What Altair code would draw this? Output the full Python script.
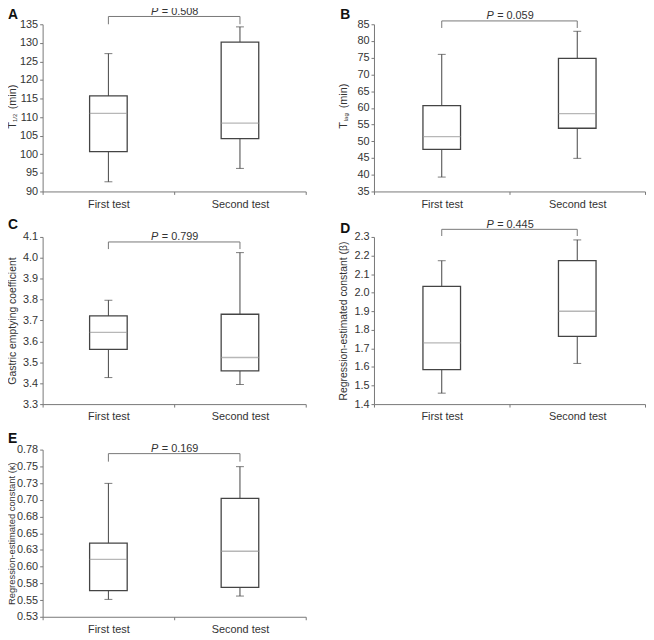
import altair as alt
import pandas as pd

CATS = ["First test", "Second test"]

# box statistics: low whisker, Q1, median, Q3, high whisker (first, second)
A_LOW = [92.6, 96.2]; A_Q1 = [100.7, 104.2]; A_MED = [111.0, 108.4]; A_Q3 = [115.7, 130.2]; A_HIGH = [127.1, 134.3]
B_LOW = [39.3, 44.9]; B_Q1 = [47.6, 53.9]; B_MED = [51.4, 58.3]; B_Q3 = [60.7, 74.8]; B_HIGH = [76.0, 82.9]
C_LOW = [3.427, 3.394]; C_Q1 = [3.562, 3.459]; C_MED = [3.643, 3.523]; C_Q3 = [3.722, 3.730]; C_HIGH = [3.797, 4.025]
D_LOW = [1.459, 1.619]; D_Q1 = [1.586, 1.765]; D_MED = [1.730, 1.900]; D_Q3 = [2.034, 2.172]; D_HIGH = [2.172, 2.284]
E_LOW = [0.551, 0.556]; E_Q1 = [0.564, 0.569]; E_MED = [0.611, 0.623]; E_Q3 = [0.635, 0.702]; E_HIGH = [0.7245, 0.7495]

A_TICKS = [90, 95, 100, 105, 110, 115, 120, 125, 130, 135]
B_TICKS = [35, 40, 45, 50, 55, 60, 65, 70, 75, 80, 85]
C_TICKS = [3.3, 3.4, 3.5, 3.6, 3.7, 3.8, 3.9, 4.0, 4.1]
D_TICKS = [1.4, 1.5, 1.6, 1.7, 1.8, 1.9, 2.0, 2.1, 2.2, 2.3]
E_TICKS = [0.525, 0.55, 0.575, 0.6, 0.625, 0.65, 0.675, 0.7, 0.725, 0.75, 0.775]

P_TEXT = {"A": "= 0.508", "B": "= 0.059", "C": "= 0.799", "D": "= 0.445", "E": "= 0.169"}
# bracket level and drop end (data units)
BRACKET = {"A": (137.1, 135.0), "B": (86.0, 83.9), "C": (4.076, 4.042), "D": (2.341, 2.305), "E": (0.769, 0.757)}

FONT = "Liberation Sans"
BOX_COLOR = "#444444"
MED_COLOR = "#999999"
AXIS_COLOR = "#777777"
TEXT_COLOR = "#333333"
H = 169

XSCALE = alt.Scale(domain=CATS, paddingInner=0, paddingOuter=0)
XAXIS = alt.Axis(title=None, labelAngle=0, tickBand="extent", tickSize=3,
                 labelPadding=4, labelFontSize=11, labelColor=TEXT_COLOR,
                 domainColor=AXIS_COLOR, tickColor=AXIS_COLOR, labelFont=FONT)


def panel(letter, low, q1, med, q3, high, ticks, fmt, width, title=None, title_parts=None,
          letter_dx=-36, letter_dy=-5, p_dy=-10, label_expr=None, title_size=11,
          title_pad=6, sub_y=98.8, tail_y=86):
    df = pd.DataFrame({"cat": CATS, "low": low, "q1": q1, "med": med, "q3": q3, "high": high})
    dom = [ticks[0], ticks[-1]]

    def xf(field, **kw):
        return alt.X(field + ":N", sort=CATS, scale=XSCALE, axis=XAXIS, **kw)

    yaxis = dict(values=ticks, format=fmt, tickSize=3, labelPadding=2, labelFontSize=11,
                 labelColor=TEXT_COLOR, domainColor=AXIS_COLOR, tickColor=AXIS_COLOR,
                 labelFont=FONT, grid=False, titleFont=FONT, titleFontSize=title_size,
                 titleFontWeight="normal", titleColor=TEXT_COLOR, titlePadding=title_pad)
    if label_expr:
        yaxis["labelExpr"] = label_expr
    yaxis["title"] = title if title else None
    YAXIS = alt.Axis(**yaxis)
    yscale = alt.Scale(domain=dom, nice=False, zero=False)

    def yq(field):
        return alt.Y(field + ":Q", scale=yscale, axis=YAXIS)

    base = alt.Chart(df)
    whisk_lo = base.mark_rule(color=BOX_COLOR, strokeWidth=1).encode(x=xf("cat"), y=yq("low"), y2="q1")
    whisk_hi = base.mark_rule(color=BOX_COLOR, strokeWidth=1).encode(x=xf("cat"), y=yq("q3"), y2="high")
    cap_lo = base.mark_tick(color=BOX_COLOR, size=8, thickness=1).encode(x=xf("cat"), y=yq("low"))
    cap_hi = base.mark_tick(color=BOX_COLOR, size=8, thickness=1).encode(x=xf("cat"), y=yq("high"))
    box = base.mark_bar(fill="white", stroke=BOX_COLOR, strokeWidth=1.3, size=38).encode(
        x=xf("cat"), y=yq("q1"), y2="q3")
    median = base.mark_tick(color=MED_COLOR, size=38, thickness=1.3).encode(x=xf("cat"), y=yq("med"))

    by, bd = BRACKET[letter]
    bdf = pd.DataFrame({"cat": CATS, "top": [by, by], "drop": [bd, bd]})
    drops = alt.Chart(bdf).mark_rule(color=AXIS_COLOR, strokeWidth=1).encode(
        x=xf("cat"), y=yq("drop"), y2="top")
    hdf = pd.DataFrame({"a": [CATS[0]], "b": [CATS[1]], "top": [by]})
    hline = alt.Chart(hdf).mark_rule(color=AXIS_COLOR, strokeWidth=1).encode(
        x=xf("a"), x2="b:N", y=yq("top"))

    # P annotation centred between the two categories
    pdf = pd.DataFrame({"cat": [CATS[0]], "p": ["P"], "rest": [P_TEXT[letter]]})
    pbase = alt.Chart(pdf)
    ptxt = pbase.mark_text(font=FONT, fontSize=11, fontStyle="italic", align="right",
                           baseline="alphabetic", dx=-16, color=TEXT_COLOR).encode(
        x=xf("cat", bandPosition=1), y=alt.value(p_dy), text="p:N")
    rtxt = pbase.mark_text(font=FONT, fontSize=11, align="left", baseline="alphabetic",
                           dx=-12.5, color=TEXT_COLOR).encode(
        x=xf("cat", bandPosition=1), y=alt.value(p_dy), text="rest:N")

    ldf = pd.DataFrame({"t": [letter]})
    lt = alt.Chart(ldf).mark_text(font=FONT, fontSize=14, fontWeight="bold", align="left",
                                  baseline="alphabetic", color="#111111").encode(
        x=alt.value(letter_dx), y=alt.value(letter_dy), text="t:N")

    layers = [whisk_lo, whisk_hi, cap_lo, cap_hi, box, median, drops, hline, ptxt, rtxt, lt]

    if title_parts:
        main, sub, tail = title_parts
        tdf = pd.DataFrame({"m": [main], "s": [sub], "r": [tail]})
        tb = alt.Chart(tdf)
        t1 = tb.mark_text(font=FONT, fontSize=11, angle=270, align="left", baseline="alphabetic",
                          color=TEXT_COLOR).encode(x=alt.value(-27), y=alt.value(105.5), text="m:N")
        t2 = tb.mark_text(font=FONT, fontSize=6, angle=270, align="left", baseline="alphabetic",
                          color=TEXT_COLOR).encode(x=alt.value(-26), y=alt.value(sub_y), text="s:N")
        t3 = tb.mark_text(font=FONT, fontSize=11, angle=270, align="left", baseline="alphabetic",
                          color=TEXT_COLOR).encode(x=alt.value(-27), y=alt.value(tail_y), text="r:N")
        layers += [t1, t2, t3]

    return alt.layer(*layers).properties(width=width, height=H)


pA = panel("A", A_LOW, A_Q1, A_MED, A_Q3, A_HIGH, A_TICKS, "d", 266,
           title_parts=("T", "1/2", "(min)"), letter_dx=-35, letter_dy=-5, p_dy=-9,
           sub_y=98.8, tail_y=86)
pB = panel("B", B_LOW, B_Q1, B_MED, B_Q3, B_HIGH, B_TICKS, "d", 274,
           title_parts=("T", "lag", "(min)"), letter_dx=-34, letter_dy=-5, p_dy=-5.5,
           sub_y=98, tail_y=85)
pC = panel("C", C_LOW, C_Q1, C_MED, C_Q3, C_HIGH, C_TICKS, ".1f", 266,
           title="Gastric emptying coefficient", letter_dx=-35, letter_dy=-8, p_dy=3,
           title_size=10.5, title_pad=5)
pD = panel("D", D_LOW, D_Q1, D_MED, D_Q3, D_HIGH, D_TICKS, ".1f", 274,
           title="Regression-estimated constant (β)", letter_dx=-34, letter_dy=-4, p_dy=-9,
           title_size=10.5, title_pad=5)
pE = panel("E", E_LOW, E_Q1, E_MED, E_Q3, E_HIGH, E_TICKS, ".2f", 266,
           title="Regression-estimated constant (κ)", letter_dx=-35, letter_dy=-7, p_dy=2.3,
           label_expr="format(datum.value + 0.0001, '.2f')", title_size=9.5, title_pad=0)

chart = alt.concat(pA, pB, pC, pD, pE, columns=2, bounds="flush",
                   spacing={"row": 46, "column": 69}).properties(
    padding={"left": -2, "top": -5, "right": 0, "bottom": 0}
).configure_view(stroke=None).resolve_scale(y="independent", x="independent")

chart.save("out.html", embed_options={"renderer": "svg", "actions": False})
